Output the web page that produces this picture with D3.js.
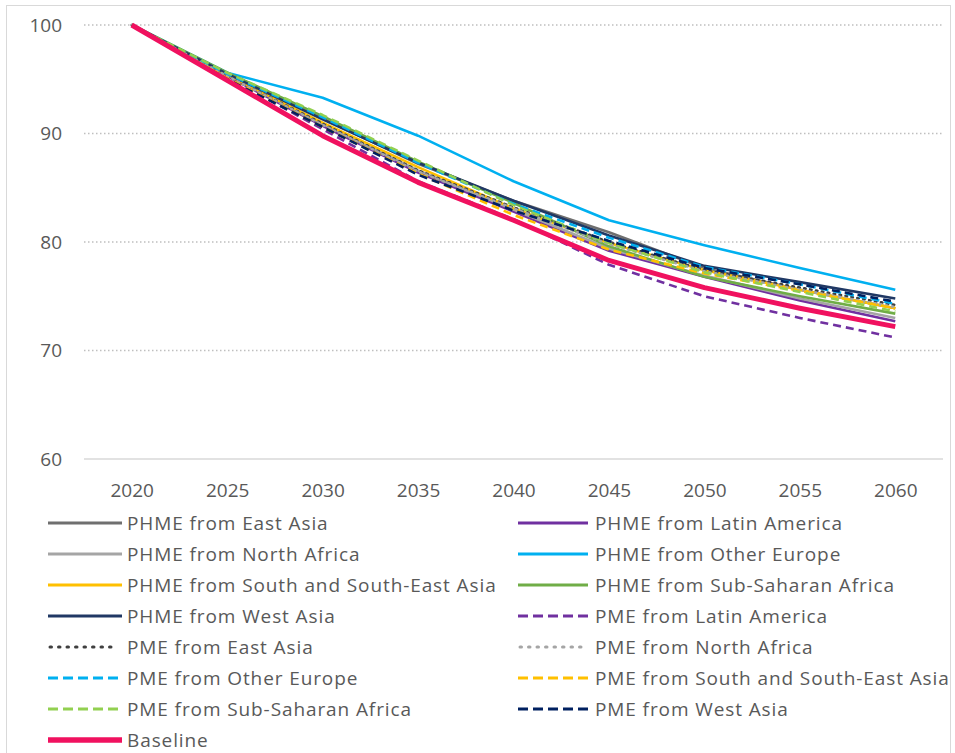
<!DOCTYPE html>
<html><head><meta charset="utf-8">
<script src="https://cdn.jsdelivr.net/npm/d3@7"></script>
<style>body{margin:0;background:#fff;} svg{display:block;font-family:"Open Sans",sans-serif;}</style>
</head><body><svg id="c" width="955" height="753"></svg>
<script>
const years = ["2020","2025","2030","2035","2040","2045","2050","2055","2060"];
const yTicks = [60,70,80,90,100];
const seriesNames = [
 "PHME from East Asia","PHME from Latin America",
 "PHME from North Africa","PHME from Other Europe",
 "PHME from South and South-East Asia","PHME from Sub-Saharan Africa",
 "PHME from West Asia","PME from Latin America",
 "PME from East Asia","PME from North Africa",
 "PME from Other Europe","PME from South and South-East Asia",
 "PME from Sub-Saharan Africa","PME from West Asia",
 "Baseline"];
const phmeEastAsia     = [100,95.6,91.4,87.2,83.8,80.9,77.6,75.6,73.9];
const phmeLatinAmerica = [100,95.3,90.7,86.4,82.8,79.2,76.8,74.6,72.7];
const phmeNorthAfrica  = [100,95.4,90.9,86.6,83.0,79.4,76.9,74.8,73.0];
const phmeOtherEurope  = [100,95.6,93.3,89.8,85.6,82.0,79.7,77.6,75.6];
const phmeSSEAsia      = [100,95.4,91.0,86.9,83.1,79.9,77.4,75.6,73.9];
const phmeSSAfrica     = [100,95.6,91.6,87.4,83.6,79.6,76.8,75.0,73.4];
const phmeWestAsia     = [100,95.5,91.3,87.3,83.8,80.6,77.8,76.3,74.8];
const pmeLatinAmerica  = [100,95.2,90.4,85.6,82.1,77.9,75.0,73.0,71.2];
const pmeEastAsia      = [100,95.3,90.9,86.6,83.2,80.0,77.4,75.8,74.2];
const pmeNorthAfrica   = [100,95.3,90.8,86.5,83.1,79.8,77.3,75.6,74.0];
const pmeOtherEurope   = [100,95.5,91.5,87.3,83.5,80.4,77.7,76.1,74.3];
const pmeSSEAsia       = [100,95.1,90.6,86.3,82.5,79.3,77.1,75.5,73.9];
const pmeSSAfrica      = [100,95.6,91.7,87.5,83.4,79.9,77.2,75.4,73.6];
const pmeWestAsia      = [100,95.0,90.6,86.2,82.9,80.1,77.6,76.1,74.5];
const baseline         = [100,94.9,89.8,85.5,82.0,78.3,75.8,73.9,72.2];

const seriesValues = [phmeEastAsia,phmeLatinAmerica,phmeNorthAfrica,phmeOtherEurope,
 phmeSSEAsia,phmeSSAfrica,phmeWestAsia,pmeLatinAmerica,pmeEastAsia,pmeNorthAfrica,
 pmeOtherEurope,pmeSSEAsia,pmeSSAfrica,pmeWestAsia,baseline];
const styles = [
 {c:"#6f6f6f",w:2.6,d:null},{c:"#7030a0",w:2.6,d:null},
 {c:"#a5a5a5",w:2.6,d:null},{c:"#00b0f0",w:2.6,d:null},
 {c:"#ffc000",w:2.6,d:null},{c:"#70ad47",w:2.6,d:null},
 {c:"#203864",w:2.6,d:null},{c:"#7030a0",w:2.6,d:"8,5"},
 {c:"#404040",w:2.6,d:"1.5,4.5",cap:"round"},{c:"#a5a5a5",w:2.6,d:"1.5,4.5",cap:"round"},
 {c:"#00b0f0",w:2.6,d:"8,5"},{c:"#ffc000",w:2.6,d:"8,5"},
 {c:"#92d050",w:2.6,d:"8,5"},{c:"#002060",w:2.6,d:"8,5"},
 {c:"#f0115f",w:5,d:null}];

const svg = d3.select("#c");
svg.append("rect").attr("x",6.5).attr("y",5.5).attr("width",944).attr("height",780)
  .attr("fill","#fff").attr("stroke","#d9d9d9");

const L=84,R=943,T=25,B=459;
const x = d3.scalePoint().domain(years).range([L,R]).padding(0.5);
const y = d3.scaleLinear().domain([60,100]).range([B,T]);

svg.append("g").selectAll("line").data(yTicks.filter(d=>d>60)).join("line")
  .attr("x1",L).attr("x2",R).attr("y1",d=>y(d)).attr("y2",d=>y(d))
  .attr("stroke","#bfbfbf").attr("stroke-width",1.3).attr("stroke-dasharray","1.5,2.5");
const ya = svg.append("g").attr("transform",`translate(${L},0)`)
  .call(d3.axisLeft(y).tickValues(yTicks).tickSize(0).tickPadding(22));
ya.select(".domain").remove();
ya.selectAll("text").attr("font-size",19).attr("fill","#595959").attr("font-family","Open Sans");
const xa = svg.append("g").attr("transform",`translate(0,${B})`)
  .call(d3.axisBottom(x).tickSize(0).tickPadding(25));
xa.select(".domain").attr("stroke","#d9d9d9").attr("stroke-width",1.3).attr("d",`M${L},0H${R}`);
xa.selectAll("text").attr("font-size",19).attr("fill","#595959").attr("font-family","Open Sans");

const line = d3.line().x((d,i)=>x(years[i])).y(d=>y(d));
svg.append("g").selectAll("path").data(seriesValues).join("path")
  .attr("d",d=>line(d)).attr("fill","none")
  .attr("stroke",(d,i)=>styles[i].c).attr("stroke-width",(d,i)=>styles[i].w)
  .attr("stroke-dasharray",(d,i)=>styles[i].d)
  .attr("stroke-linecap",(d,i)=>styles[i].cap||"butt")
  .attr("stroke-linejoin","round");

const lg = svg.append("g");
seriesNames.forEach((n,i)=>{
  const col=i%2,row=Math.floor(i/2);
  const lx = col===0?48:518, tx = col===0?127:595, ly = 523+row*31;
  const s=styles[i];
  const dash = s.cap ? "1.5,7" : (s.d ? "10,5" : null);
  lg.append("line").attr("x1",lx+(s.cap?2:0)).attr("x2",lx+(col===0?74:70)-(s.cap?6:0)).attr("y1",ly).attr("y2",ly)
    .attr("stroke",s.c).attr("stroke-width",s.w===5?5.5:3).attr("stroke-dasharray",dash)
    .attr("stroke-linecap",s.cap||"butt");
  lg.append("text").attr("x",tx).attr("y",ly).attr("dy","0.35em").attr("font-size",19)
    .attr("letter-spacing","0.9px").attr("fill","#595959").text(n);
});
</script></body></html>
